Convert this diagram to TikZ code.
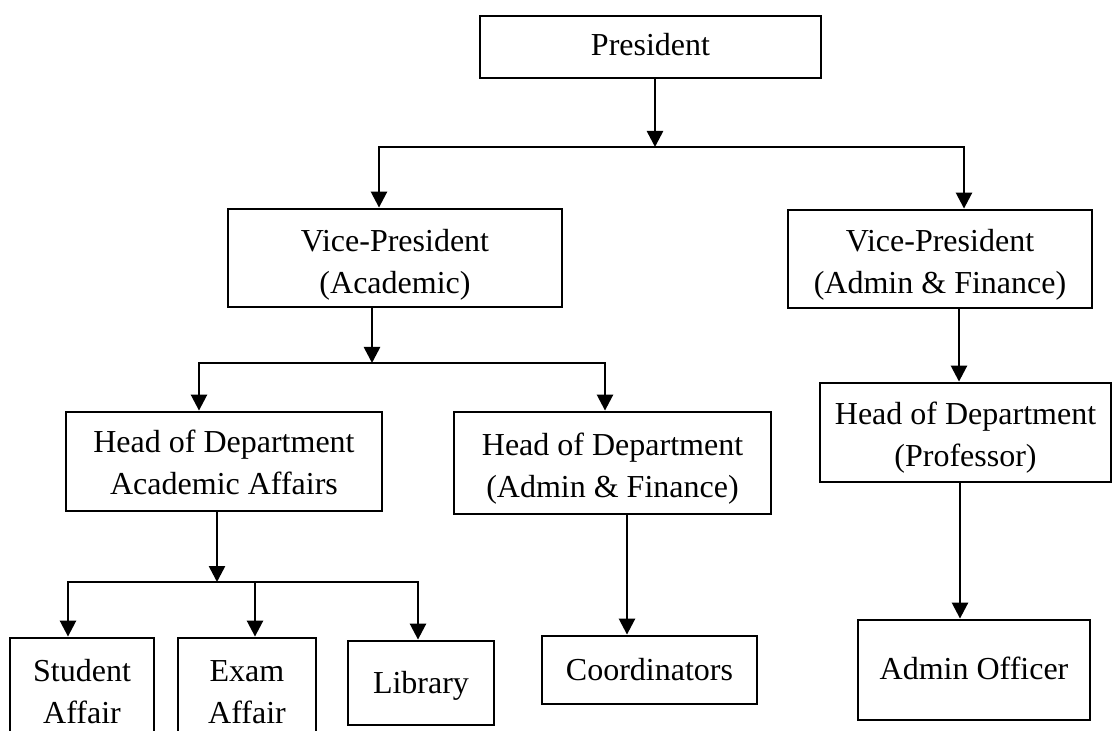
\documentclass[tikz,border=0pt]{standalone}
\usepackage{fontspec}
\setmainfont{Liberation Serif}
\usetikzlibrary{arrows.meta,calc}
\newcommand\lowtxt[2]{\raisebox{-#1}[\height][\depth]{\begin{tabular}{@{}c@{}}#2\end{tabular}}}
\begin{document}
\begin{tikzpicture}[x=0.5pt,y=-0.5pt,
  box/.style={draw,line width=1.4pt,inner sep=0pt,align=center,
    font=\fontsize{16pt}{21pt}\selectfont},
  sz/.style 2 args={minimum width=#1*0.5pt,minimum height=#2*0.5pt},
  arr/.style={line width=1.3pt,-{Triangle[width=8pt,length=8pt]}}]
\useasboundingbox (0,0) rectangle (1112,731);
\fill[white] (0,0) rectangle (1112,731);
\clip (0,0) rectangle (1112,731);

% nodes
\node[box,sz={341}{62}]  (pres)  at (650.5,47)  {\lowtxt{0pt}{President}};
\node[box,sz={334}{98}]  (vpa)   at (395,258)   {\lowtxt{3.3pt}{Vice-President\\(Academic)}};
\node[box,sz={304}{98}]  (vpf)   at (940,259)   {\lowtxt{2.5pt}{Vice-President\\(Admin \& Finance)}};
\node[box,sz={316}{99}]  (hoda)  at (224,461.5) {\lowtxt{2pt}{Head of Department\\Academic Affairs}};
\node[box,sz={317}{102}] (hodf)  at (612.5,463) {\lowtxt{2.5pt}{Head of Department\\(Admin \& Finance)}};
\node[box,sz={291}{99}]  (hodp)  at (965.5,432.5) {\lowtxt{2.5pt}{Head of Department\\(Professor)}};
\node[box,sz={144}{106}] (stu)   at (82,691)    {\lowtxt{1.5pt}{Student\\Affair}};
\node[box,sz={138}{106}] (exam)  at (247,691)   {\lowtxt{1.5pt}{Exam\\Affair}};
\node[box,sz={146}{84}]  (lib)   at (421,683)   {\lowtxt{1pt}{Library}};
\node[box,sz={215}{68}]  (coord) at (649.5,670) {\lowtxt{1pt}{Coordinators}};
\node[box,sz={232}{100}] (admin) at (974,670)   {\lowtxt{0.5pt}{Admin Officer}};

% junction points
\coordinate (b1)  at (655,147);
\coordinate (b1l) at (379,147);
\coordinate (b1r) at (964,147);
\coordinate (b2)  at (372,363);
\coordinate (b2l) at (199,363);
\coordinate (b2r) at (605,363);
\coordinate (b3)  at (217,582);
\coordinate (b3l) at (68,582);
\coordinate (b3m) at (255,582);
\coordinate (b3r) at (418,582);
\coordinate (c1)  at (959,0);
\coordinate (c2)  at (627,0);
\coordinate (c3)  at (960,0);

% connectors
\draw[arr] (pres.south -| b1) -- (b1);
\draw[arr] (b1) -| (vpa.north -| b1l);
\draw[arr] (b1) -| (vpf.north -| b1r);

\draw[arr] (vpa.south -| b2) -- (b2);
\draw[arr] (b2) -| (hoda.north -| b2l);
\draw[arr] (b2) -| (hodf.north -| b2r);

\draw[arr] (vpf.south -| c1) -- (hodp.north -| c1);

\draw[arr] (hoda.south -| b3) -- (b3);
\draw[arr] (b3) -| (stu.north -| b3l);
\draw[arr] (b3) -| (lib.north -| b3r);
\draw[arr] (b3m) -- (exam.north -| b3m);

\draw[arr] (hodf.south -| c2) -- (coord.north -| c2);
\draw[arr] (hodp.south -| c3) -- (admin.north -| c3);
\end{tikzpicture}
\end{document}
